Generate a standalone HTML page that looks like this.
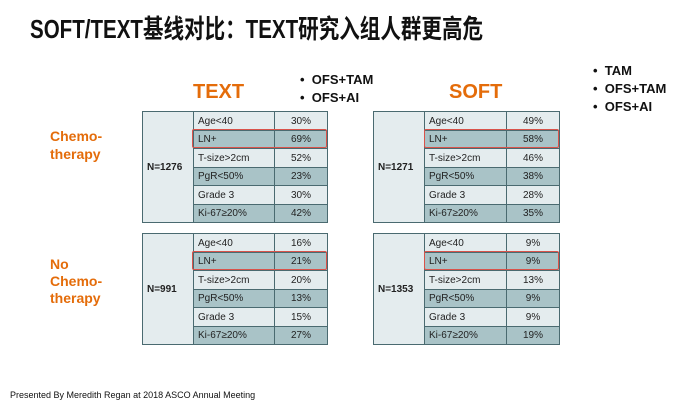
<!DOCTYPE html><html><head><meta charset="utf-8"><style>
body{margin:0;width:691px;height:408px;background:#fff;position:relative;overflow:hidden;font-family:"Liberation Sans","Noto Sans CJK SC",sans-serif}
.a{position:absolute;white-space:nowrap}
.t{font-weight:bold;font-size:26px;color:#111;left:30px;top:9px;transform:scaleX(0.79);transform-origin:0 0}
.o{color:#e46c0a;font-weight:bold}
.b{font-weight:bold;font-size:13px;color:#111}
table{position:absolute;border-collapse:collapse;font-size:10px;color:#222}
td{border:1px solid #4a6a70;height:16.5px;padding:1px 0 0 4px;vertical-align:middle;line-height:11px}
td.n{background:#e4ecee;font-weight:bold;width:46px}
td.v{text-align:center;width:52px;padding:1px 0 0 0}
tr.l td.c{background:#e4ecee}
tr.d td.c{background:#a9c3c7}
.r{position:absolute;border:1.5px solid #d9534a;border-radius:2px}
</style></head><body>
<div class="a t">SOFT/TEXT基线对比：TEXT研究入组人群更高危</div>
<div class="a o" style="left:193px;top:81px;font-size:20px">TEXT</div>
<div class="a o" style="left:449px;top:81px;font-size:20px">SOFT</div>
<div class="a b" style="left:300px;top:72px">•&nbsp;&nbsp;OFS+TAM</div>
<div class="a b" style="left:300px;top:90px">•&nbsp;&nbsp;OFS+AI</div>
<div class="a b" style="left:593px;top:63px">•&nbsp;&nbsp;TAM</div>
<div class="a b" style="left:593px;top:81px">•&nbsp;&nbsp;OFS+TAM</div>
<div class="a b" style="left:593px;top:99px">•&nbsp;&nbsp;OFS+AI</div>
<div class="a o" style="left:50px;top:127px;font-size:14px;line-height:18px">Chemo-<br>therapy</div>
<div class="a o" style="left:50px;top:256px;font-size:14px;line-height:17px">No<br>Chemo-<br>therapy</div>

<table style="left:142px;top:111px;width:186px">
<tr class="l"><td class="n" rowspan="6">N=1276</td><td class="c">Age&lt;40</td><td class="c v">30%</td></tr>
<tr class="d"><td class="c">LN+</td><td class="c v">69%</td></tr>
<tr class="l"><td class="c">T-size&gt;2cm</td><td class="c v">52%</td></tr>
<tr class="d"><td class="c">PgR&lt;50%</td><td class="c v">23%</td></tr>
<tr class="l"><td class="c">Grade 3</td><td class="c v">30%</td></tr>
<tr class="d"><td class="c">Ki-67≥20%</td><td class="c v">42%</td></tr></table>
<div class="r" style="left:192px;top:129px;width:133px;height:17px"></div>

<table style="left:142px;top:233px;width:186px">
<tr class="l"><td class="n" rowspan="6">N=991</td><td class="c">Age&lt;40</td><td class="c v">16%</td></tr>
<tr class="d"><td class="c">LN+</td><td class="c v">21%</td></tr>
<tr class="l"><td class="c">T-size&gt;2cm</td><td class="c v">20%</td></tr>
<tr class="d"><td class="c">PgR&lt;50%</td><td class="c v">13%</td></tr>
<tr class="l"><td class="c">Grade 3</td><td class="c v">15%</td></tr>
<tr class="d"><td class="c">Ki-67≥20%</td><td class="c v">27%</td></tr></table>
<div class="r" style="left:192px;top:251px;width:133px;height:17px"></div>

<table style="left:373px;top:111px;width:187px">
<tr class="l"><td class="n" rowspan="6">N=1271</td><td class="c">Age&lt;40</td><td class="c v">49%</td></tr>
<tr class="d"><td class="c">LN+</td><td class="c v">58%</td></tr>
<tr class="l"><td class="c">T-size&gt;2cm</td><td class="c v">46%</td></tr>
<tr class="d"><td class="c">PgR&lt;50%</td><td class="c v">38%</td></tr>
<tr class="l"><td class="c">Grade 3</td><td class="c v">28%</td></tr>
<tr class="d"><td class="c">Ki-67≥20%</td><td class="c v">35%</td></tr></table>
<div class="r" style="left:424px;top:129px;width:133px;height:17px"></div>

<table style="left:373px;top:233px;width:187px">
<tr class="l"><td class="n" rowspan="6">N=1353</td><td class="c">Age&lt;40</td><td class="c v">9%</td></tr>
<tr class="d"><td class="c">LN+</td><td class="c v">9%</td></tr>
<tr class="l"><td class="c">T-size&gt;2cm</td><td class="c v">13%</td></tr>
<tr class="d"><td class="c">PgR&lt;50%</td><td class="c v">9%</td></tr>
<tr class="l"><td class="c">Grade 3</td><td class="c v">9%</td></tr>
<tr class="d"><td class="c">Ki-67≥20%</td><td class="c v">19%</td></tr></table>
<div class="r" style="left:424px;top:251px;width:133px;height:17px"></div>

<div class="a" style="left:10px;top:390px;font-size:9px;color:#111">Presented By Meredith Regan at 2018 ASCO Annual Meeting</div>
</body></html>
